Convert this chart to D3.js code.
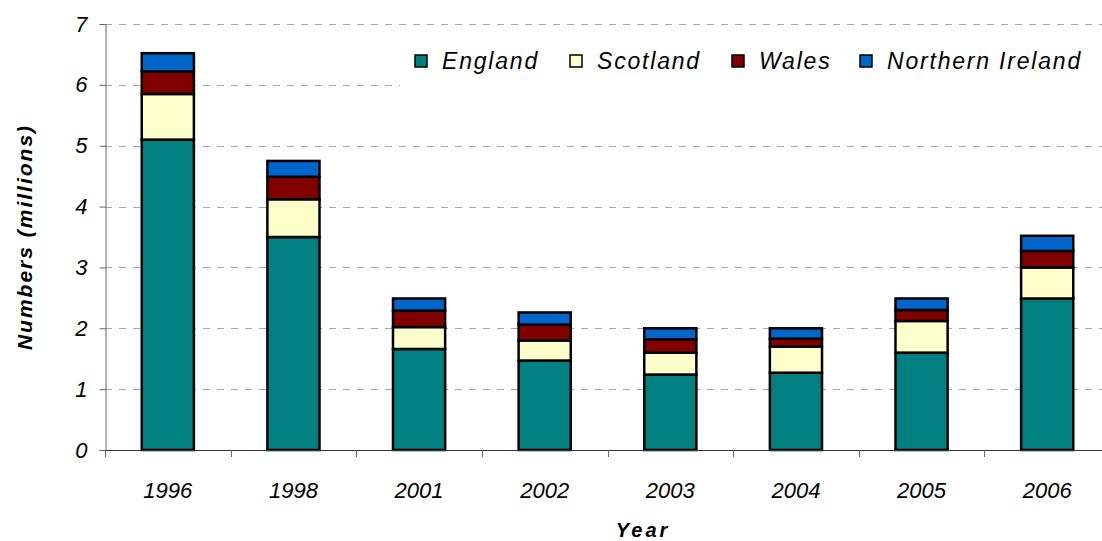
<!DOCTYPE html>
<html>
<head>
<meta charset="utf-8">
<script src="https://cdn.jsdelivr.net/npm/d3@7"></script>
<style>
  html, body { margin: 0; padding: 0; background: #fff; }
  svg { display: block; font-family: "Liberation Sans", Arial, sans-serif; }
</style>
</head>
<body>
<svg id="chart" width="1102" height="541"></svg>
<script>
const years = ["1996", "1998", "2001", "2002", "2003", "2004", "2005", "2006"];
const regions = ["England", "Scotland", "Wales", "Northern Ireland"];
const england = [5.1, 3.5, 1.66, 1.47, 1.24, 1.27, 1.6, 2.49];
const scotland = [0.75, 0.62, 0.36, 0.33, 0.36, 0.43, 0.52, 0.51];
const wales = [0.37, 0.37, 0.27, 0.26, 0.22, 0.13, 0.18, 0.27];
const nIreland = [0.3, 0.26, 0.2, 0.2, 0.18, 0.17, 0.19, 0.25];
const yTicks = [0, 1, 2, 3, 4, 5, 6, 7];

const colours = {
    "England": "#008080",
    "Scotland": "#ffffcc",
    "Wales": "#800000",
    "Northern Ireland": "#0066cc"
};

const rows = years.map((y, i) => ({
    year: y,
    "England": england[i],
    "Scotland": scotland[i],
    "Wales": wales[i],
    "Northern Ireland": nIreland[i]
}));

const margin = { top: 24, left: 105, bottom: 91 };
const plotRight = 1110;
const height = 541 - margin.top - margin.bottom;

const svg = d3.select("#chart");

const x = d3.scaleBand().domain(years).range([margin.left, plotRight]).paddingInner(0.585).paddingOuter(0.2925);
const y = d3.scaleLinear().domain([0, 7]).range([margin.top + height, margin.top]);

// gridlines
svg.append("g")
    .selectAll("line")
    .data(yTicks.slice(1))
    .join("line")
    .attr("x1", margin.left)
    .attr("x2", 1102)
    .attr("y1", d => Math.round(y(d)) + 0.5)
    .attr("y2", d => Math.round(y(d)) + 0.5)
    .attr("stroke", "#a6a6a6")
    .attr("stroke-width", 1)
    .attr("stroke-dasharray", "7 7");

// legend background hides the gridline under it
svg.append("rect")
    .attr("x", 400).attr("y", 40)
    .attr("width", 702).attr("height", 50)
    .attr("fill", "#fff");

// stacked bars
const stack = d3.stack().keys(regions)(rows);

svg.append("g")
    .selectAll("g")
    .data(stack)
    .join("g")
    .attr("fill", d => colours[d.key])
    .selectAll("rect")
    .data(d => d)
    .join("rect")
    .attr("x", d => x(d.data.year))
    .attr("width", x.bandwidth())
    .attr("y", d => y(d[1]))
    .attr("height", d => y(d[0]) - y(d[1]))
    .attr("stroke", "#000")
    .attr("stroke-width", 2.5);

// y axis
const yAxis = svg.append("g")
    .attr("transform", `translate(${margin.left + 0.5}, 0)`)
    .call(d3.axisLeft(y).tickValues(yTicks).tickSize(6).tickPadding(12).tickFormat(d3.format("d")));
yAxis.select(".domain").attr("stroke", "#666");
yAxis.selectAll(".tick line").attr("stroke", "#666");
yAxis.selectAll("text")
    .attr("font-size", 22)
    .attr("font-style", "italic")
    .attr("fill", "#000");

// x axis
const xAxis = svg.append("g")
    .attr("transform", `translate(0, ${y(0) + 0.5})`)
    .call(d3.axisBottom(x).tickSize(0).tickPadding(32));
xAxis.select(".domain").attr("d", `M${margin.left},0H1102`).attr("stroke", "#333");
xAxis.selectAll("text")
    .attr("font-size", 22)
    .attr("font-style", "italic")
    .attr("fill", "#000");

// separator ticks between categories
svg.append("g")
    .selectAll("line")
    .data(d3.range(0, years.length))
    .join("line")
    .attr("x1", i => Math.round(margin.left + i * (plotRight - margin.left) / years.length) + 0.5)
    .attr("x2", i => Math.round(margin.left + i * (plotRight - margin.left) / years.length) + 0.5)
    .attr("y1", y(0))
    .attr("y2", y(0) + 7)
    .attr("stroke", "#666");

// axis titles
svg.append("text")
    .attr("transform", `translate(32, ${margin.top + height / 2}) rotate(-90)`)
    .attr("text-anchor", "middle")
    .attr("font-size", 21)
    .attr("font-weight", "bold")
    .attr("font-style", "italic")
    .attr("letter-spacing", 2)
    .text("Numbers (millions)");

svg.append("text")
    .attr("x", 643)
    .attr("y", 537)
    .attr("text-anchor", "middle")
    .attr("font-size", 20)
    .attr("font-weight", "bold")
    .attr("font-style", "italic")
    .attr("letter-spacing", 3)
    .text("Year");

// legend
const legendX = [415, 570, 732, 860];
const legend = svg.append("g")
    .selectAll("g")
    .data(regions)
    .join("g")
    .attr("transform", (_, i) => `translate(${legendX[i]}, 61)`);

legend.append("rect")
    .attr("x", 0).attr("y", -6)
    .attr("width", 12).attr("height", 12)
    .attr("fill", d => colours[d])
    .attr("stroke", "#000")
    .attr("stroke-width", 1.5);

legend.append("text")
    .attr("x", 27)
    .attr("y", 8)
    .attr("font-size", 23)
    .attr("font-style", "italic")
    .attr("letter-spacing", 1.8)
    .text(d => d);
</script>
</body>
</html>
